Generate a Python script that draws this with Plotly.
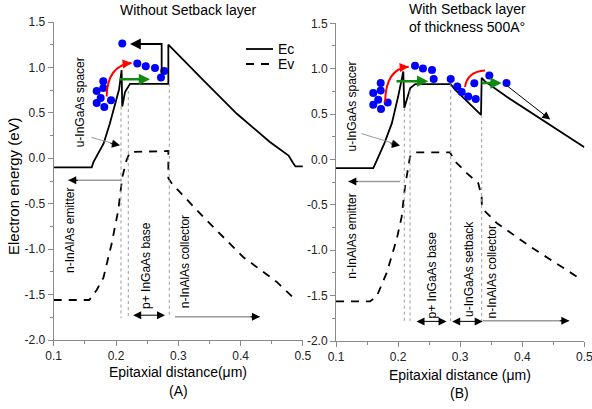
import plotly.graph_objects as go

# ---------------- data: panel A (without setback layer) ----------------
ec_a_x = [0.100, 0.161, 0.164, 0.180, 0.190, 0.196, 0.200, 0.205, 0.209, 0.210, 0.2145, 0.2225,
          0.284, 0.284, 0.340, 0.394, 0.447, 0.477, 0.484, 0.488, 0.500]
ec_a_y = [-0.10, -0.10, -0.04, 0.16, 0.38, 0.53, 0.62, 0.76, 0.97, 0.57, 0.73, 0.82,
          0.82, 1.25, 0.86, 0.49, 0.18, 0.03, -0.05, -0.09, -0.09]
ev_a_x = [0.100, 0.157, 0.169, 0.180, 0.193, 0.2037, 0.210, 0.217, 0.2225, 0.284, 0.284,
          0.290, 0.340, 0.404, 0.458, 0.485, 0.490]
ev_a_y = [-1.56, -1.56, -1.45, -1.31, -0.94, -0.57, -0.21, -0.02, 0.07, 0.08, -0.22,
          -0.28, -0.645, -1.086, -1.36, -1.53, -1.57]

# electrons (blue dots), panel A
dots_a_x = [0.2101, 0.2342, 0.2477, 0.2626, 0.2775, 0.2722,
            0.1796, 0.1690, 0.1796, 0.1754, 0.1690, 0.1812, 0.1920]
dots_a_y = [1.262, 1.042, 1.012, 0.993, 0.960, 0.888,
            0.847, 0.740, 0.773, 0.663, 0.608, 0.564, 0.638]

# layer boundaries, panel A
bounds_a = [0.208, 0.2197, 0.2855]
bounds_a_top = [0.57, 0.74, 0.82]

# ---------------- data: panel B (with 500 A setback layer) ----------------
ec_b_x = [0.100, 0.160, 0.165, 0.178, 0.190, 0.200, 0.2084, 0.210, 0.2196, 0.2276, 0.2847,
          0.2916, 0.305, 0.3335, 0.3346, 0.340, 0.375, 0.420, 0.466, 0.500]
ec_b_y = [-0.095, -0.095, -0.02, 0.18, 0.40, 0.69, 0.97, 0.566, 0.786, 0.83, 0.83,
          0.77, 0.68, 0.49, 0.90, 0.86, 0.69, 0.49, 0.28, 0.135]
ev_b_x = [0.100, 0.1547, 0.1655, 0.1816, 0.1977, 0.2058, 0.2111, 0.2192, 0.2245, 0.2836,
          0.2916, 0.3105, 0.329, 0.3346, 0.3346, 0.337, 0.3588, 0.415, 0.4876]
ev_b_y = [-1.564, -1.564, -1.51, -1.25, -0.88, -0.63, -0.30, 0.03, 0.077, 0.077,
          -0.02, -0.15, -0.26, -0.41, -0.48, -0.55, -0.70, -0.97, -1.29]

dots_b_x = [0.172, 0.160, 0.172, 0.168, 0.160, 0.1725, 0.1833,
            0.2272, 0.240, 0.2546, 0.2573, 0.2847,
            0.2953, 0.3024, 0.313, 0.325, 0.3227, 0.3469, 0.3746]
dots_b_y = [0.841, 0.731, 0.760, 0.657, 0.602, 0.555, 0.628,
            1.032, 1.002, 0.986, 0.885, 0.885,
            0.804, 0.742, 0.694, 0.665, 0.839, 0.924, 0.841]

bounds_b = [0.210, 0.2192, 0.2847, 0.3346]
bounds_b_top = [0.57, 0.76, 0.83, 0.49]

# ---------------- axes ticks ----------------
x_ticks = [0.1, 0.2, 0.3, 0.4, 0.5]
x_ticklabels = ["0.1", "0.2", "0.3", "0.4", "0.5"]
y_ticks = [-2.0, -1.5, -1.0, -0.5, 0.0, 0.5, 1.0, 1.5]
y_ticklabels = ["-2.0", "-1.5", "-1.0", "-0.5", "0.0", "0.5", "1.0", "1.5"]

FONT = "Arial, Liberation Sans, sans-serif"
BLUE = "#0000ff"
RED = "#ff0000"
GREEN = "#108a10"
GRAY = "#9a9a9a"

fig = go.Figure()

def band_traces(ecx, ecy, evx, evy, xa, ya):
    fig.add_trace(go.Scatter(x=ecx, y=ecy, mode="lines", name="Ec", xaxis=xa, yaxis=ya,
                             line=dict(color="black", width=1.8), showlegend=False))
    fig.add_trace(go.Scatter(x=evx, y=evy, mode="lines", name="Ev", xaxis=xa, yaxis=ya,
                             line=dict(color="black", width=1.8, dash="8px,7px"), showlegend=False))

band_traces(ec_a_x, ec_a_y, ev_a_x, ev_a_y, "x", "y")
band_traces(ec_b_x, ec_b_y, ev_b_x, ev_b_y, "x2", "y2")

fig.add_trace(go.Scatter(x=dots_a_x, y=dots_a_y, mode="markers", xaxis="x", yaxis="y",
                         marker=dict(color=BLUE, size=8), showlegend=False))
fig.add_trace(go.Scatter(x=dots_b_x, y=dots_b_y, mode="markers", xaxis="x2", yaxis="y2",
                         marker=dict(color=BLUE, size=8), showlegend=False))

shapes = []
annotations = []

# dotted layer boundaries
for b, t in zip(bounds_a, bounds_a_top):
    shapes.append(dict(type="line", xref="x", yref="y", x0=b, x1=b, y0=t, y1=-1.76,
                       line=dict(color=GRAY, width=1, dash="dot")))
for b, t in zip(bounds_b, bounds_b_top):
    shapes.append(dict(type="line", xref="x2", yref="y2", x0=b, x1=b, y0=t, y1=-1.78,
                       line=dict(color=GRAY, width=1, dash="dot")))


def arrow(xr, yr, x0, y0, x1, y1, color="black", width=1.0, size=1.6, both=False, head=2):
    annotations.append(dict(xref=xr, yref=yr, axref=xr, ayref=yr, x=x1, y=y1, ax=x0, ay=y0,
                            text="", showarrow=True, arrowhead=head, arrowsize=size,
                            arrowwidth=width, arrowcolor=color, standoff=0, startstandoff=0,
                            arrowside="end+start" if both else "end", startarrowhead=head,
                            startarrowsize=size))


def gray_arrow(xr, yr, x0, y0, x1, y1):
    shapes.append(dict(type="line", xref=xr, yref=yr, x0=x0, y0=y0, x1=x1, y1=y1,
                       line=dict(color=GRAY, width=1.5)))
    dx = 1 if x1 < x0 else -1
    annotations.append(dict(xref=xr, yref=yr, x=x1, y=y1, ax=dx * 11, ay=0, text="",
                            showarrow=True, arrowhead=2, arrowsize=1.6, arrowwidth=1,
                            arrowcolor="black", standoff=0))


def curved(xr, yr, p0, c, p1):
    shapes.append(dict(type="path", xref=xr, yref=yr,
                       path=f"M {p0[0]},{p0[1]} Q {c[0]},{c[1]} {p1[0]},{p1[1]}",
                       line=dict(color=RED, width=2)))
    t = 0.2
    tail = (p1[0] - t * (p1[0] - c[0]), p1[1] - t * (p1[1] - c[1]))
    arrow(xr, yr, tail[0], tail[1], p1[0], p1[1], color=RED, width=2, size=0.9)


# ---- panel A annotations ----
arrow("x", "y", 0.2037, 0.869, 0.2546, 0.869, color=GREEN, width=2.5, size=0.9)
curved("x", "y", (0.185, 0.68), (0.186, 1.02), (0.225, 1.048))
shapes.append(dict(type="path", xref="x", yref="y",
                   path="M 0.2733,0.93 L 0.2733,1.258 L 0.232,1.258",
                   line=dict(color="black", width=1.8)))
arrow("x", "y", 0.236, 1.258, 0.2225, 1.258, width=1.8, size=1.2)
gray_arrow("x", "y", 0.209, -0.242, 0.1234, -0.242)
arrow("x", "y", 0.1583, 0.234, 0.2064, 0.143, color=GRAY, width=1)
annotations.append(dict(xref="x", yref="y", x=0.2064, y=0.143, ax=-11, ay=-2, text="",
                        showarrow=True, arrowhead=2, arrowsize=1.6, arrowwidth=1,
                        arrowcolor="black", standoff=0))
arrow("x", "y", 0.2252, -1.727, 0.2787, -1.727, width=1, size=1.6, both=True)
gray_arrow("x", "y", 0.2947, -1.745, 0.431, -1.745)

# ---- panel B annotations ----
arrow("x2", "y2", 0.195, 0.862, 0.2486, 0.862, color=GREEN, width=2.5, size=0.9)
arrow("x2", "y2", 0.3319, 0.841, 0.3668, 0.841, color=GREEN, width=2.5, size=0.9)
curved("x2", "y2", (0.179, 0.63), (0.180, 1.0), (0.217, 1.02))
curved("x2", "y2", (0.3077, 0.80), (0.312, 0.97), (0.340, 0.98))
arrow("x2", "y2", 0.372, 0.83, 0.445, 0.44, width=1, size=1.6)
gray_arrow("x2", "y2", 0.203, -0.242, 0.1198, -0.242)
arrow("x2", "y2", 0.1386, 0.29, 0.203, 0.154, color=GRAY, width=1)
annotations.append(dict(xref="x2", yref="y2", x=0.203, y=0.154, ax=-11, ay=-2, text="",
                        showarrow=True, arrowhead=2, arrowsize=1.6, arrowwidth=1,
                        arrowcolor="black", standoff=0))
arrow("x2", "y2", 0.2272, -1.784, 0.278, -1.784, width=1, size=1.6, both=True)
arrow("x2", "y2", 0.2847, -1.784, 0.3362, -1.784, width=1, size=1.6, both=True)
gray_arrow("x2", "y2", 0.3362, -1.777, 0.4757, -1.777)


def vtext(xr, yr, x, y, s):
    annotations.append(dict(xref=xr, yref=yr, x=x, y=y, text=s, showarrow=False,
                            textangle=-90, font=dict(family=FONT, size=12, color="black"),
                            xanchor="center", yanchor="middle"))


vtext("x", "y", 0.1422, 0.616, "u-InGaAs spacer")
vtext("x", "y", 0.126, -0.79, "n-InAlAs emitter")
vtext("x", "y", 0.2493, -1.177, "p+ InGaAs base")
vtext("x", "y", 0.3108, -1.144, "n-InAlAs collector")
vtext("x2", "y2", 0.1253, 0.58, "u-InGaAs spacer")
vtext("x2", "y2", 0.1258, -0.851, "n-InAlAs emitter")
vtext("x2", "y2", 0.2541, -1.27, "p+ InGaAs base")
vtext("x2", "y2", 0.313, -1.204, "u-InGaAs setback")
vtext("x2", "y2", 0.3507, -1.237, "n-InAlAs collector")

# legend (drawn manually, panel A)
shapes.append(dict(type="line", xref="paper", yref="paper", x0=246 / 592, x1=273 / 592,
                   y0=1 - 49 / 409, y1=1 - 49 / 409, line=dict(color="black", width=1.8)))
shapes.append(dict(type="line", xref="paper", yref="paper", x0=246 / 592, x1=273 / 592,
                   y0=1 - 64 / 409, y1=1 - 64 / 409,
                   line=dict(color="black", width=1.8, dash="8px,7px")))
for txt, yy in (("Ec", 49), ("Ev", 64)):
    annotations.append(dict(xref="paper", yref="paper", x=276 / 592, y=1 - yy / 409,
                            text=txt, showarrow=False, xanchor="left", yanchor="middle",
                            font=dict(family=FONT, size=14, color="black")))


def ptext(x, y, s, size=14, angle=0):
    annotations.append(dict(xref="paper", yref="paper", x=x / 592, y=1 - y / 409, text=s,
                            showarrow=False, textangle=angle, xanchor="center",
                            yanchor="middle", font=dict(family=FONT, size=size, color="black")))


ptext(188, 10, "Without Setback layer")
ptext(467, 9, "With Setback layer")
ptext(467, 27, "of thickness 500A°")
ptext(178, 372, "Epitaxial distance(μm)")
ptext(178, 391, "(A)")
ptext(460, 375, "Epitaxial distance (μm)")
ptext(460, 393, "(B)")
ptext(13, 186, "Electron energy (eV)", size=15, angle=-90)

axis_common = dict(showline=True, linecolor="#8a8a8a", linewidth=1, showgrid=False,
                   zeroline=False, ticks="outside", ticklen=5, tickcolor="#8a8a8a",
                   automargin=False, ticklabeloverflow="allow",
                   tickfont=dict(family=FONT, size=12, color="#222"))
xcommon = dict(axis_common, range=[0.1, 0.5], tickvals=x_ticks, ticktext=x_ticklabels,
               minor=dict(ticks="outside", ticklen=3, dtick=0.05, tick0=0.1,
                          tickcolor="#8a8a8a", showgrid=False))
ycommon = dict(axis_common, range=[-2.0, 1.5], tickvals=y_ticks, ticktext=y_ticklabels,
               minor=dict(ticks="outside", ticklen=3, dtick=0.25, tick0=0,
                          tickcolor="#8a8a8a", showgrid=False))

fig.update_layout(
    width=592, height=409,
    margin=dict(l=0, r=0, t=0, b=0, autoexpand=False),
    paper_bgcolor="white", plot_bgcolor="white",
    showlegend=False,
    xaxis=dict(xcommon, domain=[53.7 / 592, 302.9 / 592], anchor="y"),
    yaxis=dict(ycommon, domain=[1 - 340 / 409, 1 - 22 / 409], anchor="x"),
    xaxis2=dict(xcommon, domain=[336 / 592, 584.4 / 592], anchor="y2"),
    yaxis2=dict(ycommon, domain=[1 - 341 / 409, 1 - 23.3 / 409], anchor="x2"),
    shapes=shapes,
    annotations=annotations,
)

fig.write_html("out.html", config={"displayModeBar": False},
               post_script="document.body.style.margin='0';document.body.style.overflow='hidden';")
